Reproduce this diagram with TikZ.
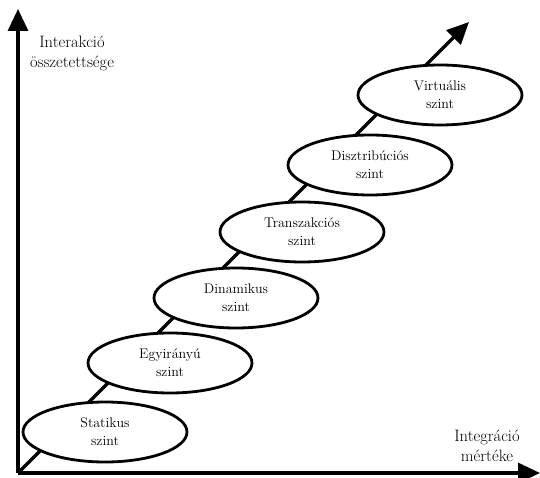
\documentclass[tikz,border=0pt]{standalone}
\usetikzlibrary{shapes.geometric,arrows.meta}

\tikzset{
  level/.style={draw,ellipse,fill=white,line width=2.8pt,minimum width=164pt,minimum height=60pt,inner sep=0pt,align=center,font=\fontsize{14}{18}\selectfont},
  axis/.style={line width=3.2pt,-{Triangle[length=22pt,width=20pt]}},
  axis label/.style={align=center,font=\fontsize{16.5}{20}\selectfont}
}

\begin{document}
\begin{tikzpicture}[x=1pt,y=-1pt]
\useasboundingbox (0,0) rectangle (540,478);

\coordinate (origin) at (18,473);
\coordinate (y end) at (18,9);
\coordinate (x end) at (540,473);
\coordinate (diag end) at (469,22);

\draw[axis] (origin) to (diag end);

\node[level](statikus) at (105,432) {Statikus\\szint};
\node[level](egyiranyu) at (170,363) {Egyirányú\\szint};
\node[level](dinamikus) at (236,298) {Dinamikus\\szint};
\node[level](tranzakcios) at (302,232) {Transzakciós\\szint};
\node[level](disztribucios) at (370,165) {Disztribúciós\\szint};
\node[level](virtualis) at (440,95) {Virtuális\\szint};

\draw[axis] (origin) to (y end);
\draw[axis] (origin) to (x end);

\node[axis label](interakcio) at (72,53) {Interakció\\összetettsége};
\node[axis label](integracio) at (487,446) {Integráció\\mértéke};

\end{tikzpicture}
\end{document}
